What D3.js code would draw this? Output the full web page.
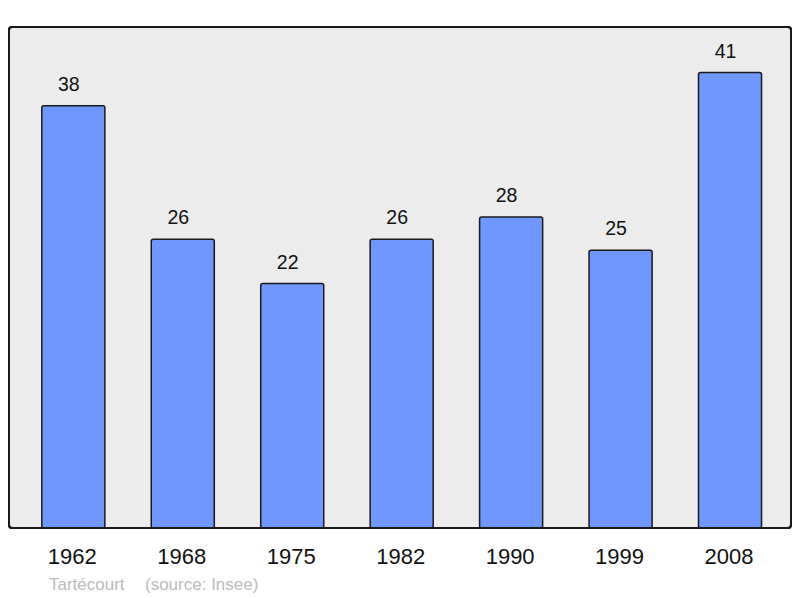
<!DOCTYPE html>
<html><head><meta charset="utf-8">
<script src="https://cdn.jsdelivr.net/npm/d3@7"></script>
<style>body{margin:0;background:#fff;}svg{display:block;font-family:"Liberation Sans",Arial,sans-serif;}</style>
</head><body>
<svg id="c" width="800" height="598"></svg>
<script>
const years = ["1962","1968","1975","1982","1990","1999","2008"];
const population = [38,26,22,26,28,25,41];
const commune = "Tartécourt";
const source = "(source: Insee)";

const svg = d3.select("#c");
const frame = {x0: 9, y0: 27, x1: 791, y1: 528};

const x = d3.scaleBand().domain(years).range([18.6, 784.75]).paddingInner(0.424).paddingOuter(0.212);
const y = d3.scaleLinear().domain([0, d3.max(population) * 1.1]).range([frame.y1, frame.y0]);

svg.append("rect").attr("x", frame.x0).attr("y", frame.y0)
  .attr("width", frame.x1 - frame.x0).attr("height", frame.y1 - frame.y0)
  .attr("rx", 3).attr("fill", "#ececec").attr("stroke", "#1a1a1a").attr("stroke-width", 2);

const data = years.map((yr, i) => ({yr, v: population[i]}));

svg.selectAll("rect.bar").data(data).join("rect").attr("class", "bar")
  .attr("x", d => x(d.yr)).attr("y", d => y(d.v))
  .attr("width", x.bandwidth()).attr("height", d => y(0) - y(d.v))
  .attr("rx", 2).attr("fill", "#7097ff").attr("stroke", "#1a1a1a").attr("stroke-width", 1.5);

svg.selectAll("text.val").data(data).join("text").attr("class", "val")
  .attr("x", d => x(d.yr) + x.bandwidth() / 2 - 4.5).attr("y", d => y(d.v) - 15)
  .attr("text-anchor", "middle").attr("font-size", 19.5).attr("fill", "#111")
  .text(d => d.v);

svg.append("rect").attr("x", frame.x0).attr("y", frame.y0)
  .attr("width", frame.x1 - frame.x0).attr("height", frame.y1 - frame.y0)
  .attr("rx", 3).attr("fill", "none").attr("stroke", "#1a1a1a").attr("stroke-width", 2);

const xAxis = d3.axisBottom(x).tickSize(0).tickPadding(0);
const ax = svg.append("g").attr("transform", `translate(-1,${frame.y1 + 36})`).call(xAxis);
ax.select(".domain").remove();
ax.selectAll("text").attr("font-size", 22).attr("fill", "#111")
  .attr("font-family", '"Liberation Sans",Arial,sans-serif').attr("dy", 0);

svg.append("text").attr("x", 49).attr("y", 590).attr("font-size", 17).attr("fill", "#bcbcbc").text(commune);
svg.append("text").attr("x", 145).attr("y", 590).attr("font-size", 17).attr("fill", "#bcbcbc").text(source);
</script>
</body></html>
